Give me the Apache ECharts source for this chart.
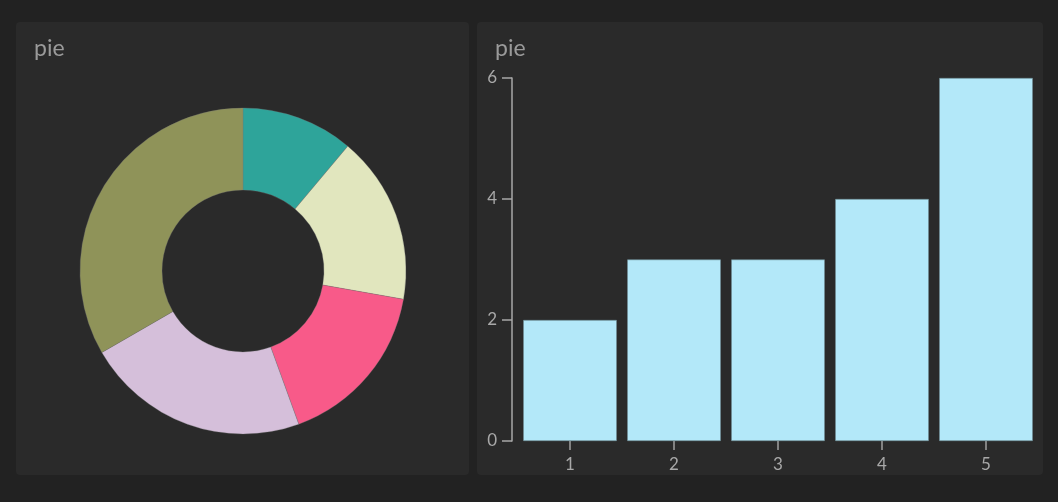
<!DOCTYPE html>
<html><head><meta charset="utf-8">
<script src="https://cdn.jsdelivr.net/npm/echarts@6/dist/echarts.min.js"></script>
<style>html,body{margin:0;padding:0;background:#222222;}#c{width:1058px;height:502px;}</style>
</head><body><div id="c"></div>
<script>
const categories = ['1','2','3','4','5'];
const values = [2,3,3,4,6];
const pieColors = ['#2ea49a','#e1e6be','#f85a89','#d5bfda','#8f9359'];
const yTicks = [0,2,4,6];
const titles = ['pie','pie'];

const chart = echarts.init(document.getElementById('c'), null, {renderer:'canvas'});
const font = 'Lato, "Open Sans", sans-serif';
chart.setOption({
  backgroundColor:'#222222',
  animation:false,
  graphic:[
    {type:'rect', z:-10, shape:{x:16,y:22,width:453,height:453,r:4}, style:{fill:'#2a2a2a'}},
    {type:'rect', z:-10, shape:{x:477,y:22,width:566,height:453,r:4}, style:{fill:'#2a2a2a'}}
  ],
  title:[
    {text:titles[0], left:29, top:32, textStyle:{color:'#9a9a9a', fontSize:23, fontWeight:'normal', fontFamily:font}},
    {text:titles[1], left:490, top:32, textStyle:{color:'#9a9a9a', fontSize:23, fontWeight:'normal', fontFamily:font}}
  ],
  grid:{left:518, right:20, top:78, bottom:61, containLabel:false},
  xAxis:{type:'category', data:categories,
    axisLine:{show:false},
    axisTick:{show:true, alignWithLabel:true, length:9, lineStyle:{color:'#a0a0a0', width:1.5}},
    axisLabel:{color:'#a8a8a8', fontSize:17, fontFamily:font, margin:15},
    splitLine:{show:false}},
  yAxis:{type:'value', min:0, max:6, interval:2, offset:6,
    axisLine:{show:true, lineStyle:{color:'#a8a8a8', width:1.5}},
    axisTick:{show:true, length:10, lineStyle:{color:'#a8a8a8', width:1.5}},
    axisLabel:{color:'#a8a8a8', fontSize:17, fontFamily:font, margin:15},
    splitLine:{show:false}},
  series:[
    {type:'pie', center:[243,271], radius:[81,163], startAngle:90, clockwise:true,
      label:{show:false}, labelLine:{show:false},
      itemStyle:{borderColor:'#777', borderWidth:0.3},
      data: values.map((v,i)=>({name:categories[i], value:v, itemStyle:{color:pieColors[i]}}))},
    {type:'bar', data:values, barCategoryGap:'10%',
      itemStyle:{color:'#b3e8f9', borderColor:'#6f8d96', borderWidth:0.6}}
  ]
});
</script></body></html>
